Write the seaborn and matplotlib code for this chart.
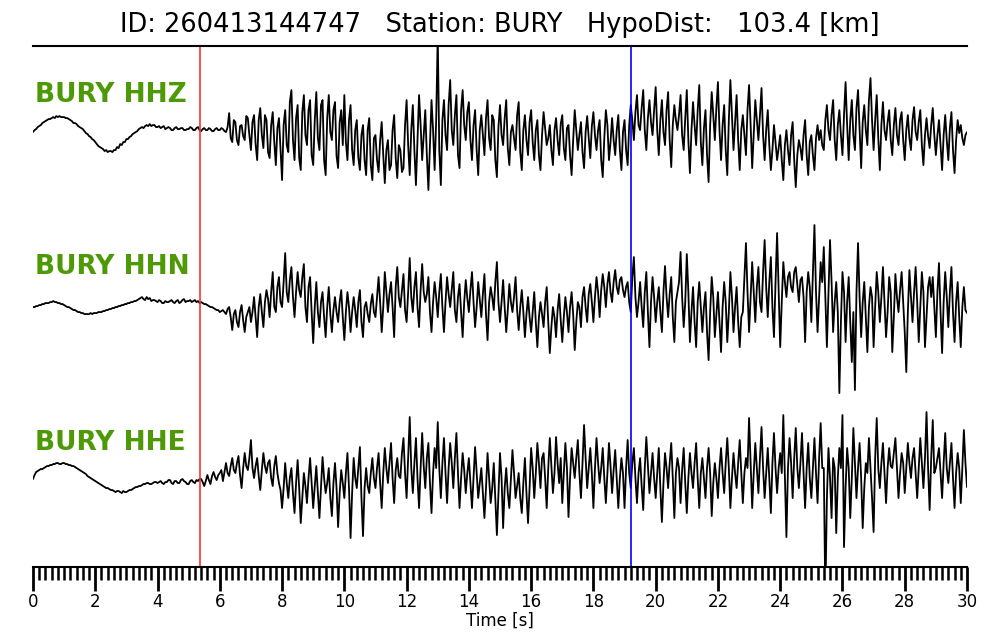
import numpy as np
import pandas as pd
import seaborn as sns
from matplotlib import pyplot as plt
from matplotlib.ticker import MultipleLocator

# Event / station info
event_id = '260413144747'
station = 'BURY'
hypo_dist = 103.4
channels = ['HHZ', 'HHN', 'HHE']
p_pick = 5.37
s_pick = 19.2

# sample times [s], one sample every 0.05 s
times = np.round(np.arange(601) * 0.05, 2)

# amplitudes (arbitrary counts), 20 samples per second
hhz = [
    -2, 0, 1, 3, 4, 5, 7, 8, 9, 10, 11, 11, 12, 13, 12, 14, 13, 14, 13, 13,
    13, 12, 12, 11, 10, 9, 7, 7, 6, 4, 3, 2, 1, -1, -3, -4, -6, -7, -9, -10,
    -12, -14, -16, -17, -18, -19, -21, -20, -22, -21, -21, -22, -20, -20, -17, -18, -14, -15, -12, -12,
    -9, -9, -7, -6, -4, -3, -2, -1, 1, 2, 3, 2, 4, 5, 4, 6, 4, 5, 5, 3,
    3, 4, 2, 3, 4, 1, 2, 3, 2, 0, 0, 2, 3, 1, 1, 2, 2, 0, 0, 1,
    1, 3, 2, 0, 0, 2, 3, 0, -1, 1, 2, 0, 0, 2, 1, -1, -1, 1, 2, 0,
    0, 2, 1, -1, -2, 3, 17, -8, -12, 10, 8, -10, -15, 4, 5, -6, -10, 14, 12, -5,
    -20, 8, 15, -14, -30, 10, 22, -5, -18, 15, 10, -22, -28, 5, 18, -12, -35, 2, 12, -20,
    -50, 5, 20, -15, -22, 28, 40, -10, -30, 12, 25, -28, -40, 18, 35, -5, -15, 20, 30, -25,
    -35, 10, 38, -8, -20, 25, 30, -30, -45, 12, 35, -2, -10, 20, 28, -26, -38, 8, 20, -15,
    35, -12, -30, 10, 25, -20, -35, 0, 10, -28, -40, -5, 5, -30, -45, 0, 12, -35, -50, -8,
    -5, -30, -42, -10, 8, -25, -53, -20, -10, -40, -35, 0, 15, -28, -48, -15, -20, -42, -38, 5,
    30, -15, -45, 0, 25, -20, -55, -10, 35, 5, -30, -5, 20, -25, -60, -15, 30, 0, -40, 10,
    95, -20, -55, 10, 30, -5, -20, 25, 50, 0, -15, 15, 35, -25, -38, 20, 40, 5, -10, 18,
    28, -10, -30, 5, 20, -20, -45, 0, 15, -5, -25, 12, 30, -8, -20, 15, 10, -30, -47, 3,
    25, -5, -15, 12, 30, -18, -35, -2, 5, -8, -20, 15, 28, -22, -40, 0, 15, -10, -25, 8,
    20, -12, -30, 0, 10, -25, -40, -5, 18, 2, -15, -8, 5, -20, -35, 0, 12, -10, -25, 6,
    15, -18, -30, 2, 5, -25, -45, -10, 20, 0, -20, -5, 8, -22, -38, -2, 14, -8, -28, 4,
    18, -5, -20, 0, 10, -30, -47, -8, 20, 5, -30, -12, 12, -10, -25, 0, 15, -20, -40, -2,
    10, -20, -35, 5, 25, 10, -10, 18, 35, 5, 0, 22, 40, 0, -20, 12, 30, 8, -5, 20,
    43, 0, -25, 10, 30, -2, -15, 20, 38, -10, -37, 5, 25, 10, 0, 15, 35, -5, -20, 12,
    40, -10, -43, 0, 28, 5, -15, 20, 45, -12, -35, 2, 20, -25, -52, 5, 38, 15, -10, 22,
    48, 0, -30, 5, 25, -20, -45, 10, 50, 15, -20, 8, 35, -10, -40, 0, 15, -5, -25, 20,
    45, 5, -38, -5, 30, 10, -10, 15, 42, -5, -30, 0, 20, -15, -40, -20, 5, -12, -30, -18,
    -5, -30, -50, -15, 0, -20, -35, -5, 8, -30, -57, -25, -10, -18, -30, -5, 10, -25, -45, -12,
    -5, -25, -40, -8, 5, -10, 0, -15, -20, 10, 25, 0, -10, 15, 30, -10, -30, 5, 20, -5,
    -25, 15, 48, 5, -30, 10, 30, -5, -20, 22, 40, 0, -38, 8, 25, 0, -15, 30, 52, 10,
    -20, 10, 35, -8, -40, 5, 28, 0, -10, 8, 20, -10, -25, 5, 22, -5, -15, 10, 18, -10,
    -30, 0, 15, -8, -20, 10, 23, -2, -10, 8, 20, -15, -35, -5, 12, -6, -18, 5, 22, -5,
    -25, -5, 10, -15, -40, -5, 15, -10, -30, 2, 18, -20, -43, -10, 10, -3, 5, -8, -15, -5,
    -2]

hhn = [
    -5, -5, -4, -4, -3, -3, -2, -2, -1, -1, -1, 0, 0, 1, 0, 0, -1, -1, -2, -2,
    -3, -4, -5, -5, -6, -7, -8, -8, -9, -10, -10, -11, -11, -12, -12, -12, -12, -11, -12, -11,
    -11, -11, -10, -10, -10, -9, -9, -8, -8, -7, -7, -6, -6, -5, -5, -4, -4, -3, -3, -2,
    -2, -1, -1, 0, 0, 1, 1, 2, 3, 4, 5, 3, 2, 5, 3, 4, 1, 2, 2, 1,
    0, 2, 1, -1, -1, 1, 0, 0, 1, 2, 0, -1, 1, 2, -1, 0, 2, 3, 0, 1,
    1, 2, 0, 1, 2, 0, 1, -1, 0, -1, -2, -2, -3, -4, -5, -5, -6, -7, -8, -8,
    -10, -9, -8, -10, -12, -7, -5, -15, -28, -12, -8, -20, -25, -10, -3, -18, -30, -15, -10, -5,
    -20, -10, 5, -15, -35, -5, 8, -10, -25, 0, 12, 3, -15, 10, 30, -5, -10, 15, 25, 0,
    -5, 20, 49, 10, 0, 22, 35, 5, -15, 10, 30, 12, 5, 25, 38, -5, -20, 15, 25, -10,
    -41, -5, 20, -10, -25, 0, 10, -15, -35, -5, 15, -12, -30, -8, 5, -10, -20, 0, 12, -15,
    -38, -10, 10, -5, -30, -10, 5, -8, -25, 0, 12, -20, -35, -5, 0, -12, -20, -2, 8, -10,
    -15, 5, 25, 0, -30, -5, 30, 10, -10, 8, 20, -5, -35, 15, 35, 5, -5, 12, 28, -8,
    -20, 10, 44, 5, -10, 15, 30, -5, -25, 12, 38, 10, 0, 8, 25, -10, -30, 0, 20, 5,
    -15, 10, 28, -5, -30, 0, 25, 8, -5, 12, 30, -8, -20, 5, 18, -10, -35, 0, 22, 4,
    -10, 12, 30, 0, -25, -5, 20, 2, -15, 8, 28, -12, -38, 0, 15, 5, -8, 20, 40, 0,
    -20, 0, 22, -5, -30, -8, 18, 0, -10, 5, 25, -8, -28, -5, 12, -10, -35, -12, 5, -15,
    -30, -10, 10, -20, -45, -15, 0, -12, -25, 0, 15, -20, -51, -25, -5, -15, -35, -8, 8, -18,
    -40, -15, 5, -10, -30, -5, 10, -12, -48, -20, 0, -5, -25, 5, 15, -5, -20, 8, 18, 0,
    -20, 5, 25, 10, -15, 12, 28, 15, -5, 18, 30, 10, 0, 20, 32, 15, 8, 22, 25, 12,
    5, 15, 20, 0, -10, 25, 45, 5, -15, 0, 20, -5, -25, 10, 30, -10, -45, 0, 25, 5,
    -20, 0, 15, -10, -30, 10, 36, 5, -15, 8, 25, -15, -40, 0, 10, 20, 50, 5, -25, 0,
    48, 10, -40, -10, 15, -20, -45, 0, 20, -5, -30, -5, 10, -30, -58, -10, 25, 5, -35, -12,
    10, -20, -50, -5, 20, 0, -40, -10, 30, 5, -30, -5, 15, -20, -45, -15, -10, 25, 59, 10,
    -30, 5, 40, 10, -20, 15, 35, 0, -10, 30, 62, 15, -15, 20, 45, -5, -35, 20, 69, 10,
    -45, 0, 40, 20, 5, 25, 30, 15, 10, 30, 35, 18, 0, 22, 25, 5, -40, 10, 30, 15,
    -20, 30, 77, 10, -30, 5, 40, 20, 55, 5, -45, 10, 62, 20, -30, 0, 20, -10, -91, -20,
    30, 10, -40, 0, 25, -20, -60, -10, -88, 10, 59, 5, -35, 0, 20, -15, -50, -5, 15, 5,
    -45, -5, 30, 10, -20, 5, 35, 0, -35, -10, 25, 10, -50, -15, 28, 5, -10, 12, 30, 0,
    -30, -70, -10, 32, 5, -20, 10, 35, 0, -40, -5, 30, 10, -45, -15, 15, 25, 5, 25, -5,
    -35, 10, 39, -10, -51, 0, 30, 5, -25, 10, 35, -10, -40, 0, 20, -15, -45, -5, 15, -8,
    -11]

hhe = [
    -1, 3, 6, 7, 8, 9, 9, 10, 11, 12, 12, 13, 13, 14, 14, 15, 15, 14, 14, 15,
    15, 14, 14, 13, 13, 12, 12, 11, 10, 9, 8, 7, 6, 5, 4, 2, 1, 0, -1, -2,
    -3, -4, -5, -6, -7, -8, -9, -10, -10, -11, -12, -12, -13, -14, -13, -13, -14, -15, -13, -14,
    -14, -13, -12, -12, -11, -10, -9, -9, -8, -8, -7, -6, -6, -5, -5, -6, -6, -5, -4, -4,
    -5, -4, -3, -5, -6, -4, -4, -2, -2, -5, -6, -3, -3, -5, -5, -2, -1, -3, -4, -6,
    -6, -3, -2, -4, -5, -2, -3, -1, -1, -4, -8, -3, 3, -2, -6, 2, 6, 1, -2, 3,
    5, 8, -3, 6, 15, 5, 2, 12, 20, 8, 5, 15, 22, 3, -10, 10, 25, 12, 8, 20,
    38, 10, 0, 12, 20, 2, -12, 8, 25, 12, 5, 15, 18, 0, -8, 12, 22, 5, -5, -12,
    -30, -10, 15, -5, -20, 0, 10, -15, -35, -5, 18, -10, -45, -20, 5, -8, -25, 0, 20, -5,
    -30, -8, 12, -15, -40, -10, 21, 0, -15, -5, 10, -20, -38, -5, 15, -10, -49, -15, 8, -5,
    -20, 5, 25, -10, -60, -15, 20, 0, -10, 10, 31, -20, -58, -10, 10, -8, -15, 5, 20, 0,
    -10, 10, 25, -5, -30, 5, 30, 10, -5, 15, 35, 0, -25, 8, 20, 2, 0, 25, 40, 5,
    -20, 20, 61, 10, -15, 15, 40, 0, -30, 10, 45, 12, -10, 20, 35, -5, -35, 5, 30, 10,
    56, 10, -20, 15, 40, 5, -25, 10, 35, 15, -10, 20, 45, 5, -30, 0, 25, 8, -15, 5,
    20, -5, -30, 0, 31, 5, -20, -5, 10, -15, -40, -10, 25, 0, -25, -10, 15, -20, -57, -15,
    25, 0, -50, -10, 10, -15, -30, 0, 28, 5, -20, -8, 5, -20, -35, -5, 20, -15, -45, -10,
    30, 10, -20, 5, 35, 15, -10, 20, 25, 0, -30, 10, 40, 12, -15, 5, 41, 15, -5, 20,
    -25, 5, 35, 10, -39, 0, 30, 15, 0, 20, 38, 5, -20, 15, 53, 20, -10, 10, 30, 5,
    -30, 10, 40, 15, -5, 10, 30, 0, -25, 5, 35, 12, -15, 8, 28, 0, -30, 0, 20, 5,
    -30, 10, 38, 5, -10, 15, 30, 0, -25, 5, 20, -8, -32, 10, 41, 12, -15, 5, 25, 0,
    -20, 5, 30, -10, -44, -5, 25, 10, -10, 15, 35, 0, -40, 5, 20, 10, -25, 8, 30, -5,
    -35, 0, 25, 5, -10, 15, 35, 0, -30, 5, 20, 0, -20, 10, 30, 5, -38, -5, 15, 0,
    -20, 10, 30, 5, -15, 15, 40, 10, -30, 0, 25, 5, -10, 15, 38, 5, -25, 5, 20, 10,
    60, 15, -30, 5, 35, 10, -15, 20, 51, 10, -20, 5, 30, 0, -35, 15, 45, 10, -15, 10,
    25, 5, 63, 0, -59, 10, 40, 15, -20, 20, 50, 10, -10, 15, 45, 5, -30, 10, 35, 0,
    -20, 10, 40, 5, -25, 20, 55, 10, 10, -120, -20, 30, 0, -40, 20, 10, -55, 0, 30, 10,
    63, -69, -10, 30, 10, -40, 0, 50, 15, -20, 10, 35, 0, -50, -10, 15, 5, 40, 10, -20,
    -54, 20, 60, 10, -10, 15, 35, 5, -25, 10, 30, 12, 10, 25, 40, 10, -20, 5, 25, 15,
    -15, 10, 35, 15, 0, 20, 30, 5, -20, 10, 40, 15, -10, 20, 66, 10, -32, 20, 58, 5,
    10, 20, 30, 5, -20, 15, 45, 10, -5, 15, 35, 0, -30, 5, 25, 10, -25, 10, 48, 15,
    -9]

traces = [hhz, hhn, hhe]

# layout: vertical offset of each trace
offsets = [0, -172, -348]

sns.set_style('white')
plt.rcParams['font.family'] = ['DejaVu Sans']

fig = plt.figure(figsize=(10, 6.4), dpi=100)
ax = fig.add_axes([0.033, 0.114, 0.934, 0.814])

for chan, amp, off in zip(channels, traces, offsets):
    df = pd.DataFrame({'t': times, 'amp': np.array(amp) + off})
    sns.lineplot(data=df, x='t', y='amp', ax=ax, color='black', lw=1.3)
    ax.text(0.05, off + 28, f'{station} {chan}', color='#4e9a06',
            fontsize=19, fontweight='bold', va='baseline', ha='left')

ax.axvline(p_pick, color='#ff3030', lw=1.2)
ax.axvline(s_pick, color='#0000ff', lw=1.2)

ax.set_xlim(0, 30)
ax.set_ylim(-437, 84)
ax.set_yticks([])
ax.set_ylabel('')
ax.xaxis.set_major_locator(MultipleLocator(2))
ax.xaxis.set_minor_locator(MultipleLocator(0.2))
ax.tick_params(axis='x', which='both', bottom=True, direction='out', color='black')
ax.tick_params(axis='x', which='major', length=17, width=2, labelsize=12,
               labelcolor='black', pad=2)
ax.tick_params(axis='x', which='minor', length=9, width=1.8)
ax.set_xlabel('Time [s]', fontsize=12, labelpad=0, color='black')

for s in ['left', 'right']:
    ax.spines[s].set_visible(False)
for s in ['top', 'bottom']:
    ax.spines[s].set_linewidth(1.5)
    ax.spines[s].set_color('black')

fig.text(0.5, 0.961, f'ID: {event_id}   Station: {station}   HypoDist:   {hypo_dist} [km]',
         ha='center', va='center', fontsize=18.5, color='black')

fig.savefig('out.png', dpi=100)
